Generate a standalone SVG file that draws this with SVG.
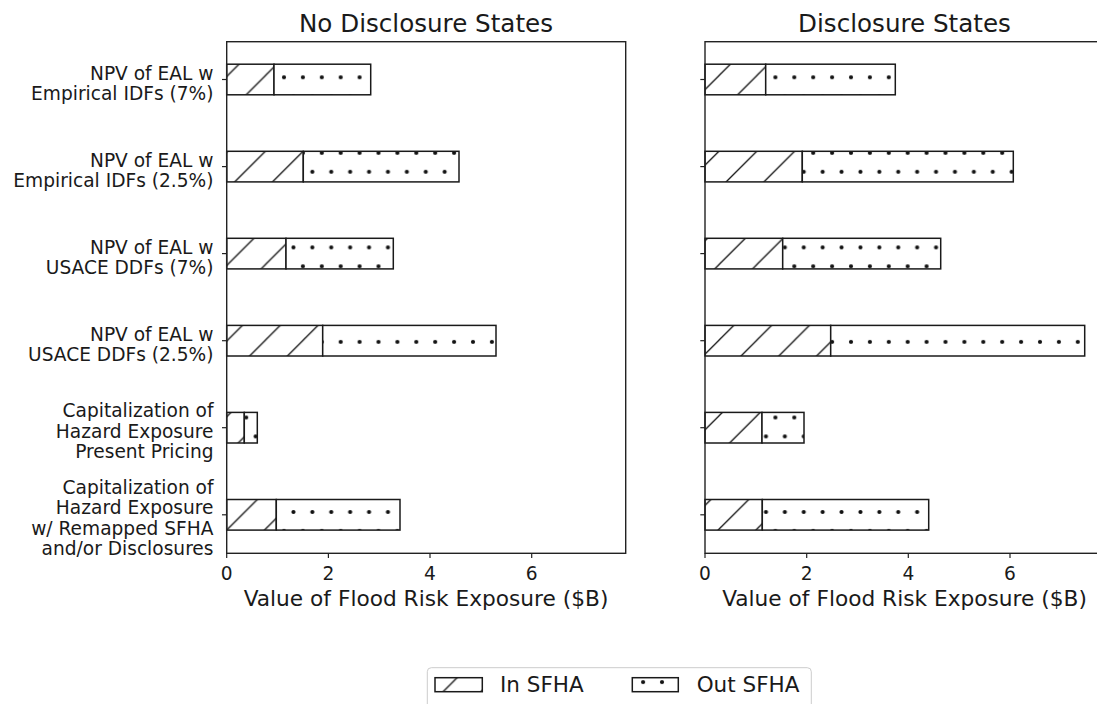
<svg xmlns="http://www.w3.org/2000/svg" width="1097" height="704" viewBox="0 0 1097 704">
<style>
text{font-family:"DejaVu Sans","Liberation Sans",sans-serif;fill:#1a1a1a}
.yl{font-size:18.6px;text-anchor:end}
.xt{font-size:18.6px;text-anchor:middle}
.xl{font-size:21.7px;text-anchor:middle}
.ti{font-size:24.6px;text-anchor:middle}
.lg{font-size:21.5px}
.spine{fill:none;stroke:#222;stroke-width:1.4}
.tick{stroke:#222;stroke-width:1.2}
.in{fill:url(#hatch);stroke:#1a1a1a;stroke-width:1.5}
.out{fill:url(#dots);stroke:#1a1a1a;stroke-width:1.5}
</style>
<defs>
<pattern id="hatch" patternUnits="userSpaceOnUse" x="0.8" y="0" width="37.8" height="37.8">
<rect width="37.8" height="37.8" fill="#fff"/>
<path d="M-2,2 L2,-2 M0,37.8 L37.8,0 M35.8,39.8 L39.8,35.8" stroke="#111" stroke-width="1.3" fill="none"/>
</pattern>
<pattern id="dots" patternUnits="userSpaceOnUse" x="0.5" y="1.7" width="18.9" height="37.8">
<rect width="18.9" height="37.8" fill="#fff"/>
<g fill="#111">
<circle cx="0" cy="0" r="2.1"/><circle cx="18.9" cy="0" r="2.1"/>
<circle cx="0" cy="37.8" r="2.1"/><circle cx="18.9" cy="37.8" r="2.1"/>
<circle cx="9.45" cy="18.9" r="2.1"/>
</g>
</pattern>
</defs>
<rect width="1097" height="704" fill="#fff"/>

<g id="panel-left">
<text class="ti" x="426" y="32">No Disclosure States</text>
<g id="bars-left">
<rect class="in" x="226.7" y="64.2" width="47.3" height="30.6"/><rect class="out" x="274" y="64.2" width="96.7" height="30.6"/>
<rect class="in" x="226.7" y="151.3" width="76.6" height="30.6"/><rect class="out" x="303.3" y="151.3" width="155.7" height="30.6"/>
<rect class="in" x="226.7" y="238.3" width="59.3" height="30.6"/><rect class="out" x="286" y="238.3" width="107.3" height="30.6"/>
<rect class="in" x="226.7" y="325.4" width="96" height="30.6"/><rect class="out" x="322.7" y="325.4" width="173.3" height="30.6"/>
<rect class="in" x="226.7" y="412.4" width="17.6" height="30.6"/><rect class="out" x="244.3" y="412.4" width="13" height="30.6"/>
<rect class="in" x="226.7" y="499.5" width="49.6" height="30.6"/><rect class="out" x="276.3" y="499.5" width="123.7" height="30.6"/>
</g>
<rect class="spine" x="226.7" y="41.7" width="399" height="511.6"/>
<g class="tick">
<line x1="222" y1="79.5" x2="226.7" y2="79.5"/><line x1="222" y1="166.6" x2="226.7" y2="166.6"/>
<line x1="222" y1="253.6" x2="226.7" y2="253.6"/><line x1="222" y1="340.7" x2="226.7" y2="340.7"/>
<line x1="222" y1="427.7" x2="226.7" y2="427.7"/><line x1="222" y1="514.8" x2="226.7" y2="514.8"/>
<line x1="226.7" y1="553.3" x2="226.7" y2="558"/><line x1="328.4" y1="553.3" x2="328.4" y2="558"/>
<line x1="430" y1="553.3" x2="430" y2="558"/><line x1="531.7" y1="553.3" x2="531.7" y2="558"/>
</g>
<g id="ylabels">
<text class="yl" x="213.5" y="79.5"><tspan x="213.5">NPV of EAL w</tspan><tspan x="213.5" dy="20.3">Empirical IDFs (7%)</tspan></text>
<text class="yl" x="213.5" y="166.5"><tspan x="213.5">NPV of EAL w</tspan><tspan x="213.5" dy="20.3">Empirical IDFs (2.5%)</tspan></text>
<text class="yl" x="213.5" y="253.5"><tspan x="213.5">NPV of EAL w</tspan><tspan x="213.5" dy="20.3">USACE DDFs (7%)</tspan></text>
<text class="yl" x="213.5" y="340.6"><tspan x="213.5">NPV of EAL w</tspan><tspan x="213.5" dy="20.3">USACE DDFs (2.5%)</tspan></text>
<text class="yl" x="213.5" y="417.3"><tspan x="213.5">Capitalization of</tspan><tspan x="213.5" dy="20.3">Hazard Exposure</tspan><tspan x="213.5" dy="20.3">Present Pricing</tspan></text>
<text class="yl" x="213.5" y="494"><tspan x="213.5">Capitalization of</tspan><tspan x="213.5" dy="20.3">Hazard Exposure</tspan><tspan x="213.5" dy="20.3">w/ Remapped SFHA</tspan><tspan x="213.5" dy="20.3">and/or Disclosures</tspan></text>
</g>
<text class="xt" x="226.7" y="580">0</text><text class="xt" x="328.4" y="580">2</text>
<text class="xt" x="430" y="580">4</text><text class="xt" x="531.7" y="580">6</text>
<text class="xl" x="426" y="606">Value of Flood Risk Exposure ($B)</text>
</g>

<g id="panel-right">
<text class="ti" x="904.5" y="32">Disclosure States</text>
<g id="bars-right">
<rect class="in" x="705" y="64.2" width="60.7" height="30.6"/><rect class="out" x="765.7" y="64.2" width="129.6" height="30.6"/>
<rect class="in" x="705" y="151.3" width="97.3" height="30.6"/><rect class="out" x="802.3" y="151.3" width="211" height="30.6"/>
<rect class="in" x="705" y="238.3" width="77.7" height="30.6"/><rect class="out" x="782.7" y="238.3" width="158" height="30.6"/>
<rect class="in" x="705" y="325.4" width="125.7" height="30.6"/><rect class="out" x="830.7" y="325.4" width="254" height="30.6"/>
<rect class="in" x="705" y="412.4" width="57" height="30.6"/><rect class="out" x="762" y="412.4" width="42" height="30.6"/>
<rect class="in" x="705" y="499.5" width="57.3" height="30.6"/><rect class="out" x="762.3" y="499.5" width="166.4" height="30.6"/>
</g>
<rect class="spine" x="705" y="41.7" width="399" height="511.6"/>
<g class="tick">
<line x1="700.3" y1="79.5" x2="705" y2="79.5"/><line x1="700.3" y1="166.6" x2="705" y2="166.6"/>
<line x1="700.3" y1="253.6" x2="705" y2="253.6"/><line x1="700.3" y1="340.7" x2="705" y2="340.7"/>
<line x1="700.3" y1="427.7" x2="705" y2="427.7"/><line x1="700.3" y1="514.8" x2="705" y2="514.8"/>
<line x1="705" y1="553.3" x2="705" y2="558"/><line x1="806.7" y1="553.3" x2="806.7" y2="558"/>
<line x1="908.3" y1="553.3" x2="908.3" y2="558"/><line x1="1010" y1="553.3" x2="1010" y2="558"/>
</g>
<text class="xt" x="705" y="580">0</text><text class="xt" x="806.7" y="580">2</text>
<text class="xt" x="908.3" y="580">4</text><text class="xt" x="1010" y="580">6</text>
<text class="xl" x="904.5" y="606">Value of Flood Risk Exposure ($B)</text>
</g>

<g id="legend">
<rect x="427.3" y="667.7" width="384" height="50" rx="4" fill="#fff" stroke="#cccccc" stroke-width="1"/>
<rect class="in" x="435" y="677.7" width="47.3" height="14"/>
<text class="lg" x="500" y="691.7">In SFHA</text>
<rect class="out" x="632.3" y="677.7" width="46" height="14"/>
<text class="lg" x="696.7" y="691.7">Out SFHA</text>
</g>
</svg>
